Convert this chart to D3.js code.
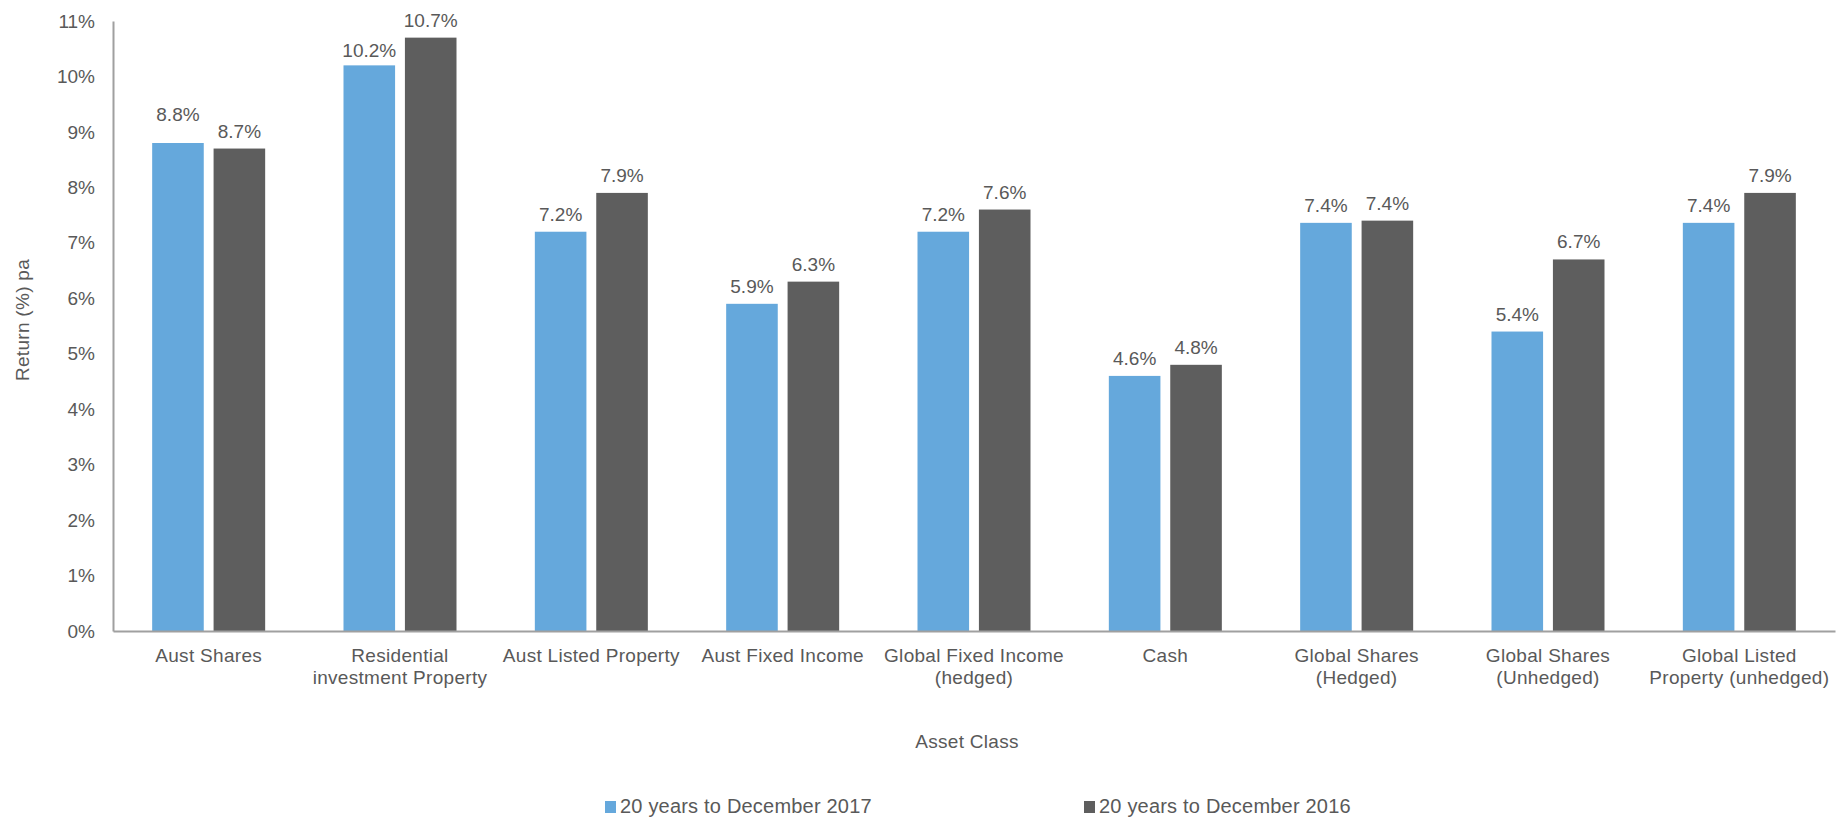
<!DOCTYPE html>
<html>
<head>
<meta charset="utf-8">
<script src="https://cdn.jsdelivr.net/npm/d3@7"></script>
<style>
  html, body { margin: 0; padding: 0; background: #fff; }
  svg { display: block; font-family: "Liberation Sans", Arial, sans-serif; }
</style>
</head>
<body>
<svg id="chart" width="1838" height="819"></svg>
<script>
// ---- data ----
const categories = [
  "Aust Shares",
  "Residential\ninvestment Property",
  "Aust Listed Property",
  "Aust Fixed Income",
  "Global Fixed Income\n(hedged)",
  "Cash",
  "Global Shares\n(Hedged)",
  "Global Shares\n(Unhedged)",
  "Global Listed\nProperty (unhedged)"
];
const seriesNames = ["20 years to December 2017", "20 years to December 2016"];
const values2017 = [8.8, 10.2, 7.2, 5.9, 7.2, 4.6, 7.36, 5.4, 7.36];
const values2016 = [8.7, 10.7, 7.9, 6.3, 7.6, 4.8, 7.4, 6.7, 7.9];
const yTicks = [0, 1, 2, 3, 4, 5, 6, 7, 8, 9, 10, 11];
const yTitle = "Return (%) pa";
const xTitle = "Asset Class";

// ---- layout ----
const colors = ["#65A8DC", "#5E5E5E"];
const textColor = "#595959";
const axisColor = "#A0A0A0";
const plotLeft = 113, plotRight = 1835, plotTop = 21, plotBottom = 631;
const fontSize = 19;
const labelGap = 11;
// extra lift (px) for individual labels, keyed "category-series"
const labelNudge = { "0-0": 11, "1-0": -3 };

const svg = d3.select("#chart");

const x = d3.scaleBand().domain(categories).range([plotLeft, plotRight]).paddingInner(0).paddingOuter(0);
const groupW = 113;
const x1 = d3.scaleBand().domain(seriesNames).range([-groupW / 2, groupW / 2]).paddingInner(0.16);
const y = d3.scaleLinear().domain([0, 11]).range([plotBottom, plotTop]);

const rows = categories.map((c, i) => ({ cat: c, i, vals: [values2017[i], values2016[i]] }));

// bars
const groups = svg.append("g").selectAll("g").data(rows).join("g")
  .attr("transform", d => `translate(${x(d.cat) + x.bandwidth() / 2},0)`);

groups.selectAll("rect").data(d => d.vals.map((v, j) => ({ v, s: seriesNames[j], j, i: d.i })))
  .join("rect")
  .attr("x", d => x1(d.s))
  .attr("width", x1.bandwidth())
  .attr("y", d => y(d.v))
  .attr("height", d => y(0) - y(d.v))
  .attr("fill", d => colors[d.j]);

groups.selectAll("text.lbl").data(d => d.vals.map((v, j) => ({ v, s: seriesNames[j], j, i: d.i })))
  .join("text")
  .attr("class", "lbl")
  .attr("x", d => x1(d.s) + x1.bandwidth() / 2)
  .attr("y", d => y(d.v) - labelGap - (labelNudge[d.i + "-" + d.j] || 0))
  .attr("text-anchor", "middle")
  .attr("font-size", fontSize)
  .attr("fill", textColor)
  .text(d => d.v.toFixed(1) + "%");

// y axis
const yAxis = svg.append("g").attr("transform", `translate(${plotLeft},0)`)
  .call(d3.axisLeft(y).tickValues(yTicks).tickSize(0).tickPadding(18).tickFormat(d => d + "%"));
yAxis.select(".domain").attr("stroke", axisColor).attr("stroke-width", 2);
yAxis.selectAll("text").attr("font-size", fontSize).attr("fill", textColor)
  .attr("font-family", "Liberation Sans, Arial, sans-serif");

// x axis
const xAxis = svg.append("g").attr("transform", `translate(0,${plotBottom})`)
  .call(d3.axisBottom(x).tickSize(0).tickFormat(""));
xAxis.select(".domain").attr("stroke", axisColor).attr("stroke-width", 2);
xAxis.selectAll(".tick text").remove();
xAxis.selectAll(".tick").each(function (d) {
  const lines = d.split("\n");
  const t = d3.select(this).append("text")
    .attr("text-anchor", "middle")
    .attr("font-size", fontSize)
    .attr("letter-spacing", "0.3px")
    .attr("fill", textColor)
    .attr("font-family", "Liberation Sans, Arial, sans-serif");
  lines.forEach((ln, i) => {
    t.append("tspan").attr("x", 0).attr("y", 31 + i * 22).text(ln);
  });
});

// axis titles
svg.append("text")
  .attr("transform", `translate(29,320) rotate(-90)`)
  .attr("text-anchor", "middle")
  .attr("font-size", fontSize)
  .attr("letter-spacing", "0.3px")
  .attr("fill", textColor)
  .text(yTitle);

svg.append("text")
  .attr("x", 967)
  .attr("y", 748)
  .attr("text-anchor", "middle")
  .attr("font-size", fontSize)
  .attr("letter-spacing", "0.3px")
  .attr("fill", textColor)
  .text(xTitle);

// legend
const legendX = [605, 1084];
const legend = svg.append("g").selectAll("g").data(seriesNames).join("g")
  .attr("transform", (d, i) => `translate(${legendX[i]},813)`);
legend.append("rect").attr("x", 0).attr("y", -12).attr("width", 11).attr("height", 12)
  .attr("fill", (d, i) => colors[i]);
legend.append("text").attr("x", 15).attr("y", 0)
  .attr("font-size", 20).attr("letter-spacing", "0.2px").attr("fill", textColor)
  .text(d => d);
</script>
</body>
</html>
